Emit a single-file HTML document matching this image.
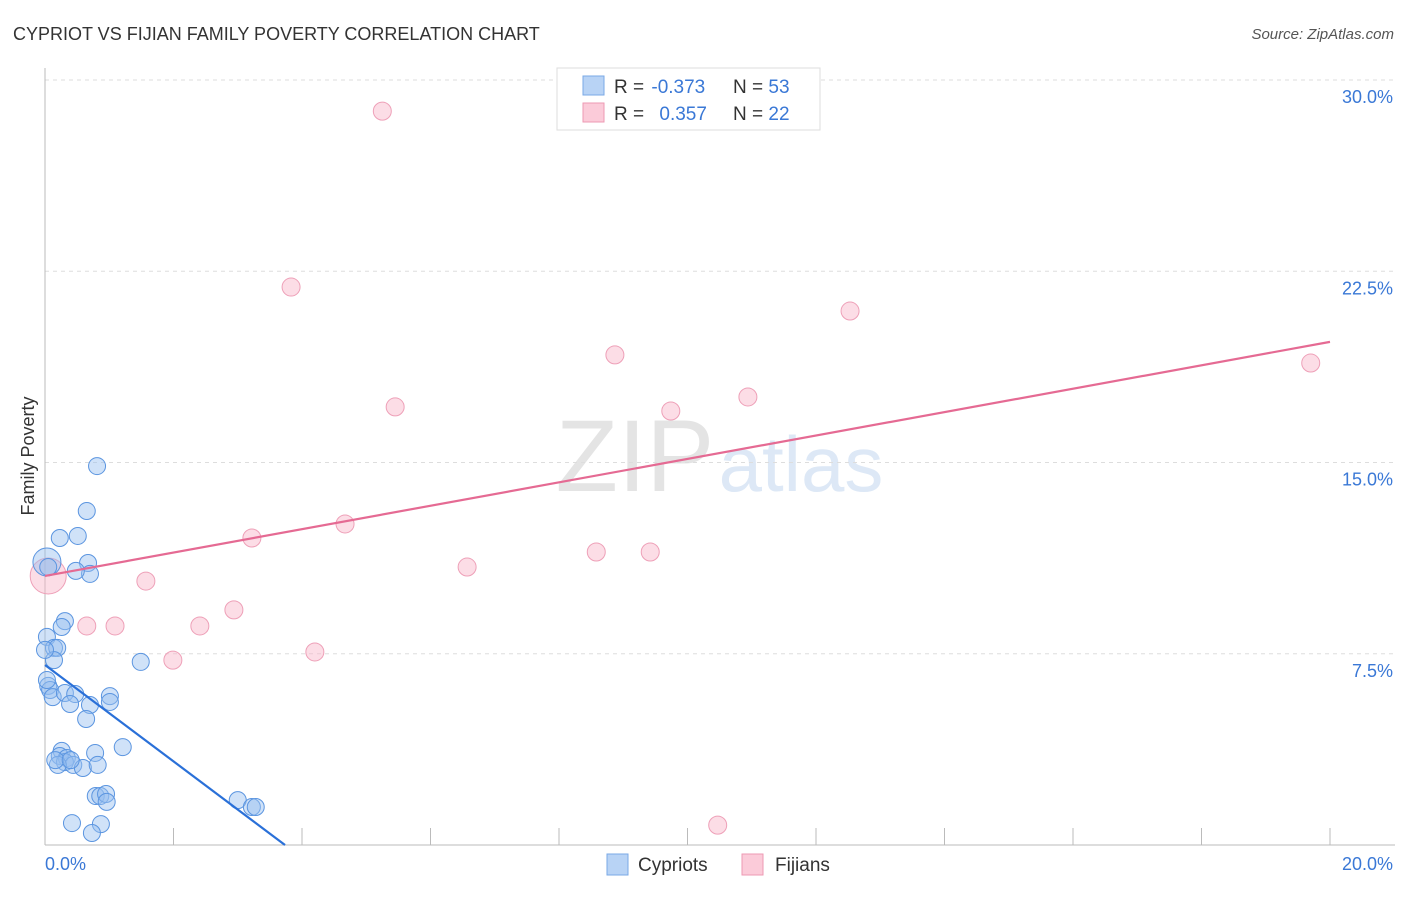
<!DOCTYPE html>
<html><head><meta charset="utf-8"><style>
body{margin:0;background:#fff;font-family:"Liberation Sans",sans-serif}
svg text{font-family:"Liberation Sans",sans-serif}
</style></head><body>
<svg id="chart" width="1406" height="892" xmlns="http://www.w3.org/2000/svg">
<text x="13" y="40" font-size="18" fill="#333">CYPRIOT VS FIJIAN FAMILY POVERTY CORRELATION CHART</text>
<text x="1394" y="39" font-size="15" fill="#555" font-style="italic" text-anchor="end">Source: ZipAtlas.com</text>
<g>
<text x="635" y="491" font-size="102" fill="#e4e4e4" font-family="Liberation Serif,serif" text-anchor="middle">ZIP</text>
<text x="801" y="491" font-size="78" fill="#dde8f6" text-anchor="middle">atlas</text>
</g>
<g id="grid"></g>
<g id="axes"></g>
<g id="marks"></g>
<text x="34" y="456" font-size="18" fill="#333" transform="rotate(-90 34 456)" text-anchor="middle">Family Poverty</text>
<g>
<rect x="557" y="68" width="263" height="62" fill="#fff" stroke="#ddd"/>
<rect x="583" y="76" width="21" height="19" fill="#b8d3f5" stroke="#7aa8e6"/>
<rect x="583" y="103" width="21" height="19" fill="#fbcbd9" stroke="#ee9ab3"/>
<text x="614" y="93" font-size="19" fill="#333">R = <tspan fill="#3a78d6" dx="2">-0.373</tspan></text>
<text x="733" y="93" font-size="19" fill="#333">N = <tspan fill="#3a78d6">53</tspan></text>
<text x="614" y="120" font-size="19" fill="#333">R =  <tspan fill="#3a78d6" dx="10">0.357</tspan></text>
<text x="733" y="120" font-size="19" fill="#333">N = <tspan fill="#3a78d6">22</tspan></text>
</g>
<g>
<rect x="607" y="854" width="21" height="21" fill="#b8d3f5" stroke="#7aa8e6"/>
<text x="638" y="871" font-size="19" fill="#333">Cypriots</text>
<rect x="742" y="854" width="21" height="21" fill="#fbcbd9" stroke="#ee9ab3"/>
<text x="775" y="871" font-size="19" fill="#333">Fijians</text>
</g>
</svg>
<script>
const xTicks=[0,20];
const yTicks=[7.5,15,22.5,30];
const blueX=[0.81,0.65,0.23,0.51,0.67,0.70,0.48,0.03,0.05,0.31,0.26,0.03,0.14,0.19,0.14,1.49,0.05,0.08,0.12,0.31,0.47,0.39,0.70,1.01,1.01,0.64,1.21,0.26,0.23,0.34,0.31,0.44,0.20,0.59,0.78,0.82,0.79,0.86,0.95,0.96,3.00,3.22,3.28,0.42,0.87,0.73,0.03,0.00,0.16,0.40];
const blueY=[14.86,13.10,12.04,12.12,11.06,10.63,10.75,11.10,10.90,8.78,8.55,8.16,7.73,7.73,7.25,7.18,6.24,6.08,5.80,5.96,5.92,5.53,5.49,5.84,5.61,4.94,3.84,3.69,3.49,3.41,3.25,3.14,3.14,3.02,3.61,3.14,1.92,1.92,2.00,1.69,1.76,1.49,1.49,0.86,0.82,0.47,6.47,7.65,3.33,3.33];
const pinkX=[5.25,3.83,12.53,8.87,19.70,5.45,10.94,9.74,4.67,3.22,8.58,9.42,6.57,1.57,2.94,0.65,1.09,2.41,1.99,4.20,10.47,0.05];
const pinkY=[28.78,21.88,20.94,19.22,18.90,17.18,17.57,17.02,12.59,12.04,11.49,11.49,10.90,10.35,9.22,8.59,8.59,8.59,7.25,7.57,0.78,10.55];
const blueTrend=[7.06,-1.89];
const pinkTrend=[10.55,0.459];
const NS='http://www.w3.org/2000/svg';
const sx=v=>45+v/20*1285;
const sy=v=>845-v/30*765;
function mk(tag,attrs,parent){const e=document.createElementNS(NS,tag);for(const k in attrs)e.setAttribute(k,attrs[k]);document.getElementById(parent).appendChild(e);return e;}
yTicks.forEach(t=>{
 const g=mk('line',{x1:45,x2:1395,y1:sy(t),y2:sy(t),stroke:'#ddd','stroke-dasharray':'4,4'},'grid');
 
 
 const l=mk('text',{x:1393,y:sy(t)+23,'font-size':18,fill:'#3a78d6','text-anchor':'end'},'grid');
 l.textContent=t.toFixed(1)+'%';
 
 
});
mk('line',{x1:45,x2:45,y1:68,y2:845,stroke:'#bbb'},'axes');
mk('line',{x1:45,x2:1395,y1:845,y2:845,stroke:'#bbb'},'axes');
for(let i=1;i<=10;i++){const x=sx(i*2);const t=mk('line',{x1:x,x2:x,y1:828,y2:845,stroke:'#bbb'},'axes');
 
 }
xTicks.forEach((t,i)=>{const l=mk('text',{x:i?1393:45,y:870,'font-size':18,fill:'#3a78d6','text-anchor':i?'end':'start'},'axes');
 l.textContent=t.toFixed(1)+'%';
 
 });
pinkX.forEach((x,i)=>{const big=i===pinkX.length-1;const c=mk('circle',{cx:sx(x),cy:sy(pinkY[i]),r:big?18:9,fill:'rgba(248,180,200,0.45)',stroke:'#eea0b8','stroke-width':1},'marks');
 
 });
blueX.forEach((x,i)=>{const big=i===7;const c=mk('circle',{cx:sx(x),cy:sy(blueY[i]),r:big?14:8.5,fill:'rgba(150,190,240,0.45)',stroke:'#5b95e0','stroke-width':1},'marks');
 
 });
const bx2=-blueTrend[0]/blueTrend[1];
const bl=mk('line',{x1:sx(0),y1:sy(blueTrend[0]),x2:sx(bx2),y2:sy(0),stroke:'#2a70d8','stroke-width':2.2},'marks');


const pl=mk('line',{x1:sx(0),y1:sy(pinkTrend[0]),x2:sx(20),y2:sy(pinkTrend[0]+20*pinkTrend[1]),stroke:'#e56a93','stroke-width':2.2},'marks');


</script>
</body></html>
